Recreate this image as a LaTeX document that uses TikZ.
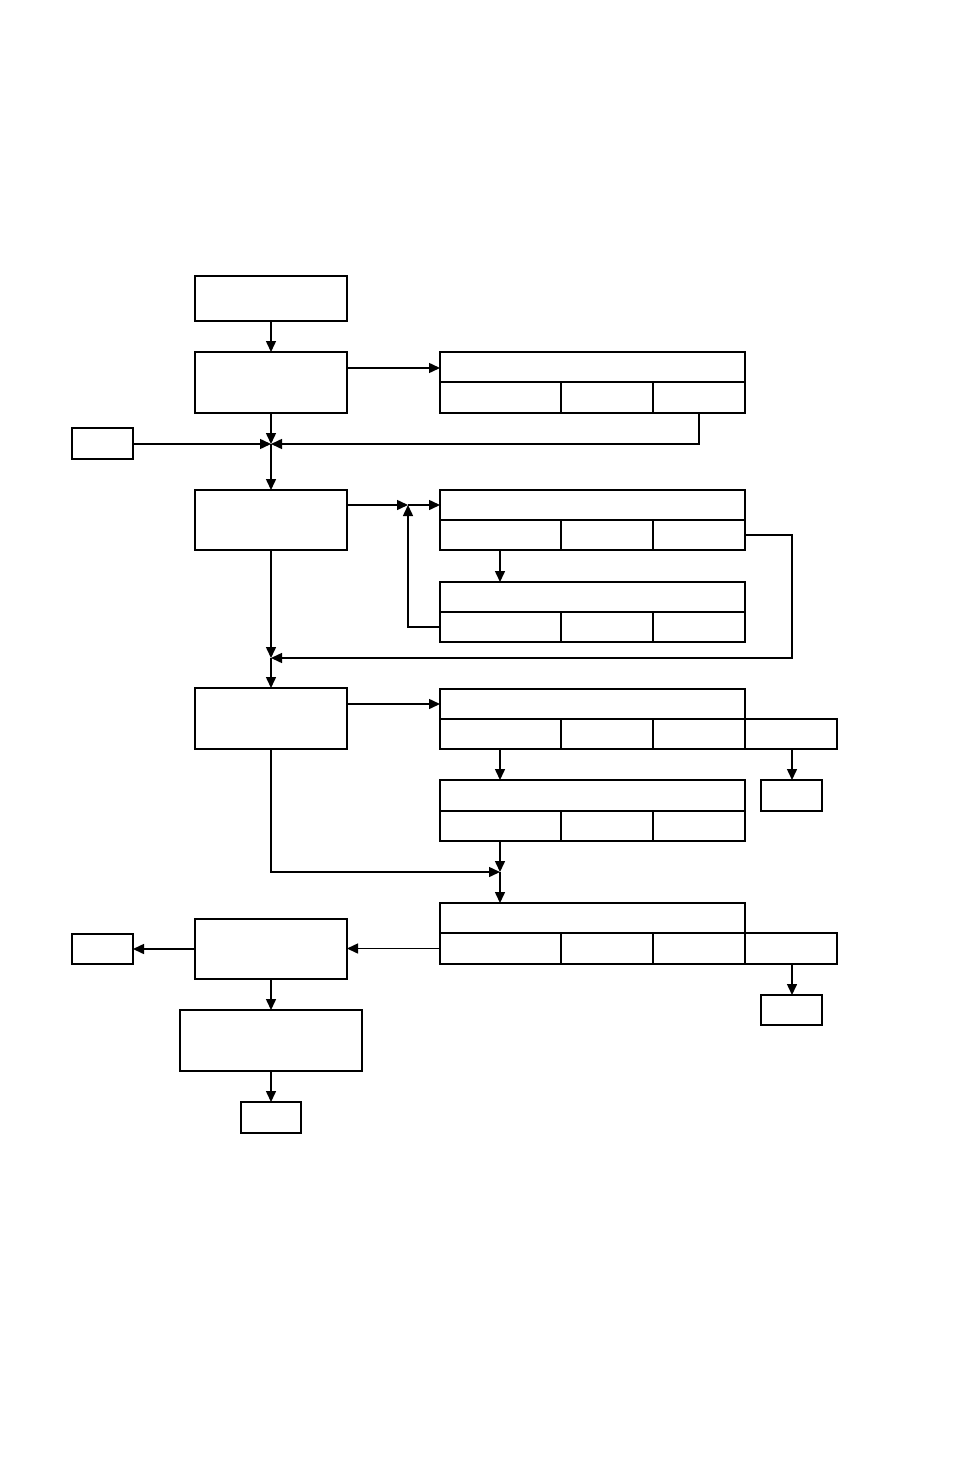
\documentclass[tikz,border=0pt]{standalone}
\usetikzlibrary{arrows.meta}
\newcommand{\bx}[5]{\node[boxst,minimum width={(#4-#2)*1pt},minimum height={(#5-#3)*1pt}] (#1) at ({(#2+#4)/2},{(#3+#5)/2}) {};}
\begin{document}
\begin{tikzpicture}[x=1pt,y=-1pt,
  boxst/.style={draw,line width=1.5pt,inner sep=0pt,outer sep=0pt},
  arr/.style={line width=1.5pt,-{Triangle[length=11pt,width=10pt]}},
  ln/.style={line width=1.5pt}]
\useasboundingbox (0,0) rectangle (954,1474);
% left column
\bx{A}{195}{276}{347}{321}
\bx{B}{195}{352}{347}{413}
\bx{C}{195}{490}{347}{550}
\bx{D}{195}{688}{347}{749}
\bx{E}{195}{919}{347}{979}
\bx{F}{180}{1010}{362}{1071}
\bx{G}{241}{1102}{301}{1133}
\bx{L1}{72}{428}{133}{459}
\bx{L2}{72}{934}{133}{964}
\bx{R1}{761}{780}{822}{811}
\bx{R2}{761}{995}{822}{1025}
% table 1
\bx{T1h}{440}{352}{745}{382}
\bx{T1a}{440}{382}{561}{413}
\bx{T1b}{561}{382}{653}{413}
\bx{T1c}{653}{382}{745}{413}
% table 2
\bx{T2h}{440}{490}{745}{520}
\bx{T2a}{440}{520}{561}{550}
\bx{T2b}{561}{520}{653}{550}
\bx{T2c}{653}{520}{745}{550}
% table 3
\bx{T3h}{440}{582}{745}{612}
\bx{T3a}{440}{612}{561}{642}
\bx{T3b}{561}{612}{653}{642}
\bx{T3c}{653}{612}{745}{642}
% table 4
\bx{T4h}{440}{689}{745}{719}
\bx{T4a}{440}{719}{561}{749}
\bx{T4b}{561}{719}{653}{749}
\bx{T4c}{653}{719}{745}{749}
\bx{T4d}{745}{719}{837}{749}
% table 5
\bx{T5h}{440}{780}{745}{811}
\bx{T5a}{440}{811}{561}{841}
\bx{T5b}{561}{811}{653}{841}
\bx{T5c}{653}{811}{745}{841}
% table 6
\bx{T6h}{440}{903}{745}{933}
\bx{T6a}{440}{933}{561}{964}
\bx{T6b}{561}{933}{653}{964}
\bx{T6c}{653}{933}{745}{964}
\bx{T6d}{745}{933}{837}{964}
% junctions
\coordinate (J1) at (271,444);
\coordinate (J2) at (408,505);
\coordinate (J3) at (271,658);
\coordinate (J4) at (500,872);
% connectors
\draw[arr] (A.south) -- (B.north);
\draw[arr] (B.east |- 0,368) -- (T1h.west |- 0,368);
\draw[arr] (B.south) -- (J1);
\draw[arr] (L1.east |- J1) -- (J1);
\draw[arr] (T1c.south -| 699,0) -- (699,444) -- (J1);
\draw[arr] (J1) -- (C.north);
\draw[arr] (C.east |- J2) -- (J2);
\draw[arr] (J2) -- (T2h.west |- J2);
\draw[arr] (T2a.south -| 500,0) -- (T3h.north -| 500,0);
\draw[arr] (T3a.west) -- (J2 |- T3a.west) -- (J2);
\draw[arr] (T2c.east) -- (792,535) -- (792,658) -- (J3);
\draw[arr] (C.south) -- (J3);
\draw[arr] (J3) -- (D.north);
\draw[arr] (D.east |- 0,704) -- (T4h.west |- 0,704);
\draw[arr] (T4a.south -| 500,0) -- (T5h.north -| 500,0);
\draw[arr] (T4d.south -| 792,0) -- (R1.north -| 792,0);
\draw[arr] (T5a.south -| 500,0) -- (J4);
\draw[arr] (D.south) -- (271,872) -- (J4);
\draw[arr] (J4) -- (T6h.north -| J4);
\draw[arr] (T6a.west) -- (E.east |- T6a.west);
\draw[arr] (E.west) -- (L2.east |- E.west);
\draw[arr] (T6d.south -| 792,0) -- (R2.north -| 792,0);
\draw[arr] (E.south) -- (E.south |- F.north);
\draw[arr] (G.north |- F.south) -- (G.north);
\end{tikzpicture}
\end{document}
